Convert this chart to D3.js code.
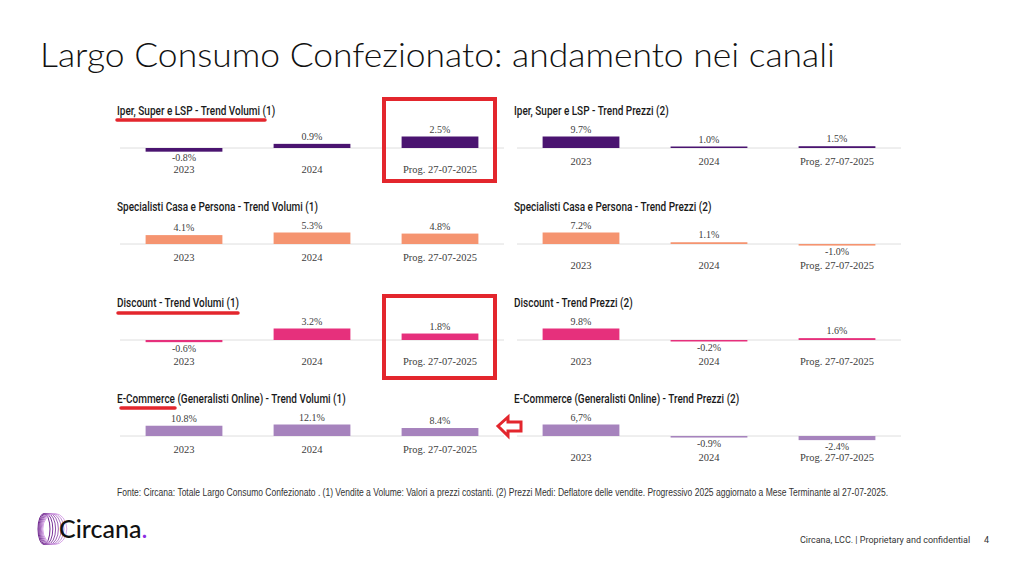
<!DOCTYPE html>
<html>
<head>
<meta charset="utf-8">
<script src="https://cdn.jsdelivr.net/npm/d3@7"></script>
<style>
  body { margin: 0; background: #fff; }
  svg { display: block; }
</style>
</head>
<body>
<script>
// data
const categories = ["2023", "2024", "Prog. 27-07-2025"];
const channels = ["Iper, Super e LSP", "Specialisti Casa e Persona", "Discount", "E-Commerce (Generalisti Online)"];
const volumi = [[-0.8, 0.9, 2.5], [4.1, 5.3, 4.8], [-0.6, 3.2, 1.8], [10.8, 12.1, 8.4]];
const prezzi = [[9.7, 1.0, 1.5], [7.2, 1.1, -1.0], [9.8, -0.2, 1.6], [6.7, -0.9, -2.4]];
const channelColors = ["#4a1470", "#f59470", "#e6307c", "#a683bd"];
// one label is written with a comma on the slide
const labelOverride = { "prezzi-3-0": "6,7%" };

const width = 1024, height = 569;
const red = "#e3262d";

const svg = d3.select("body").append("svg")
  .attr("width", width)
  .attr("height", height);

// main title
svg.append("text")
  .attr("x", 40).attr("y", 67)
  .attr("textLength", 795).attr("lengthAdjust", "spacingAndGlyphs")
  .style("font-family", "Lato, 'Open Sans', sans-serif")
  .style("font-weight", 300)
  .style("font-size", "33px")
  .style("fill", "#111")
  .text("Largo Consumo Confezionato: andamento nei canali");

const fmt = v => d3.format(".1f")(v).replace("\u2212", "-") + "%";

// one panel = one small bar chart
function panel(kind, row, col) {
  const values = kind === "volumi" ? volumi[row] : prezzi[row];
  const titleY = 110 + row * 96;
  const zero = titleY + 38;
  const x0 = col === 0 ? 120 : 517;
  const x1 = x0 + 384;
  const hasNeg = values.some(v => v < 0);
  const color = channelColors[row];

  const g = svg.append("g");

  // title (condensed look)
  const titleText = channels[row] + " - Trend " + (kind === "volumi" ? "Volumi (1)" : "Prezzi (2)");
  g.append("text")
    .attr("transform", `translate(${x0 - 3},${titleY + 4.5}) scale(0.8,1)`)
    .style("font-family", "Roboto, sans-serif")
    .style("font-weight", 500)
    .style("font-size", "12.5px")
    .style("fill", "#1a1a1a")
    .text(titleText);

  const x = d3.scaleBand()
    .domain(categories)
    .range([x0, x1])
    .paddingInner(0.4)
    .paddingOuter(0.2);

  const maxAbs = d3.max(values, v => Math.abs(v));
  const y = d3.scaleLinear()
    .domain([-maxAbs, maxAbs])
    .range([zero + 11.5, zero - 11.5]);

  const barH = d => Math.max(Math.abs(y(d) - y(0)), 1.5);

  // baseline
  g.append("line")
    .attr("x1", x0).attr("x2", x1)
    .attr("y1", zero).attr("y2", zero)
    .attr("stroke", "#dedede").attr("stroke-width", 1);

  g.selectAll("rect.bar")
    .data(values)
    .enter()
    .append("rect")
    .attr("class", "bar")
    .attr("x", (d, i) => x(categories[i]))
    .attr("width", x.bandwidth())
    .attr("y", d => d >= 0 ? zero - barH(d) : zero)
    .attr("height", barH)
    .attr("fill", color);

  // value labels
  g.selectAll("text.val")
    .data(values)
    .enter()
    .append("text")
    .attr("class", "val")
    .attr("x", (d, i) => x(categories[i]) + x.bandwidth() / 2)
    .attr("y", d => d >= 0 ? zero - barH(d) - 4 : zero + barH(d) + 9.5)
    .attr("text-anchor", "middle")
    .style("font-family", "'Liberation Serif', 'Times New Roman', serif")
    .style("font-size", "10px")
    .style("fill", "#404040")
    .text((d, i) => labelOverride[kind + "-" + row + "-" + i] || fmt(d));

  // category labels
  g.selectAll("text.cat")
    .data(categories)
    .enter()
    .append("text")
    .attr("class", "cat")
    .attr("x", d => x(d) + x.bandwidth() / 2)
    .attr("y", zero + (hasNeg ? 24.5 : 16.5))
    .attr("text-anchor", "middle")
    .style("font-family", "'Liberation Serif', 'Times New Roman', serif")
    .style("font-size", "10.5px")
    .style("fill", "#404040")
    .text(d => d);
}

for (let r = 0; r < channels.length; r++) {
  panel("volumi", r, 0);
  panel("prezzi", r, 1);
}

// red annotations
const anno = svg.append("g");
[[117, 265, 120], [118, 238, 313], [121, 175, 408]].forEach(u => {
  anno.append("line")
    .attr("x1", u[0]).attr("x2", u[1]).attr("y1", u[2]).attr("y2", u[2])
    .attr("stroke", red).attr("stroke-width", 3.5).attr("stroke-linecap", "round");
});
[99, 296].forEach(top => {
  anno.append("rect")
    .attr("x", 384).attr("y", top).attr("width", 111).attr("height", 82)
    .attr("fill", "none").attr("stroke", red).attr("stroke-width", 4);
});
anno.append("polygon")
  .attr("points", "498,426 508,417 508,422 521,422 521,431 508,431 508,436")
  .attr("fill", "#fff").attr("stroke", red).attr("stroke-width", 3)
  .attr("stroke-linejoin", "miter");

// footnote
svg.append("text")
  .attr("x", 117).attr("y", 496)
  .attr("textLength", 771).attr("lengthAdjust", "spacingAndGlyphs")
  .style("font-family", "'Liberation Sans Narrow', 'Liberation Sans', Arial, sans-serif")
  .style("font-size", "10px")
  .style("fill", "#333")
  .text("Fonte: Circana: Totale Largo Consumo Confezionato . (1) Vendite a Volume: Valori a prezzi costanti. (2) Prezzi Medi: Deflatore delle vendite. Progressivo 2025 aggiornato a Mese Terminante al 27-07-2025.");

// logo
const logo = svg.append("g");
const ringColor = d3.scaleLinear().domain([0, 6]).range(["#6a1f8a", "#d8a8e8"]);
d3.range(7).forEach(i => {
  logo.append("ellipse")
    .attr("cx", 44 + i * 1.8).attr("cy", 529)
    .attr("rx", 6 + i * 1.0).attr("ry", 15.5)
    .attr("fill", "none")
    .attr("stroke", ringColor(i)).attr("stroke-width", 1);
});
logo.append("text")
  .attr("x", 59).attr("y", 538)
  .style("font-family", "Lato, 'Open Sans', sans-serif")
  .style("font-weight", 500)
  .style("font-size", "25px")
  .style("fill", "#111")
  .text("Circana")
  .append("tspan")
  .style("fill", "#8a2be2")
  .text(".");

// bottom right
svg.append("text")
  .attr("x", 800).attr("y", 543)
  .style("font-family", "Roboto, sans-serif")
  .style("font-size", "9px")
  .style("fill", "#333")
  .text("Circana, LCC. |  Proprietary and confidential");
svg.append("text")
  .attr("x", 984).attr("y", 543)
  .style("font-family", "Roboto, sans-serif")
  .style("font-size", "9px")
  .style("fill", "#333")
  .text("4");
</script>
</body>
</html>
